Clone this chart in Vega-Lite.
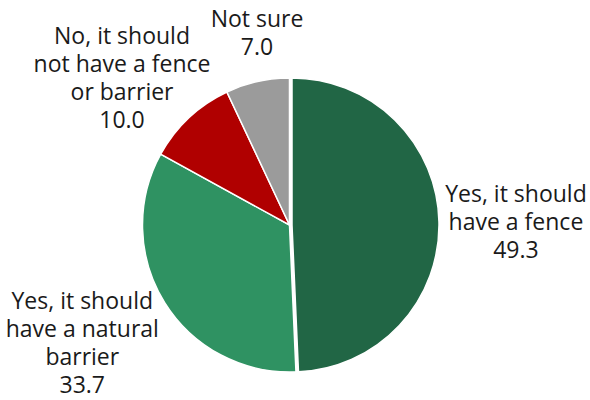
{
  "$schema": "https://vega.github.io/schema/vega-lite/v6.json",
  "width": 579,
  "height": 350,
  "autosize": {"type": "none"},
  "padding": {"left": 0, "top": 50, "right": 11, "bottom": 0},
  "background": "white",
  "view": {"stroke": null},
  "data": {
    "values": [
      {"order": 1, "answer": "Yes, it should have a fence", "label": ["Yes, it should", "have a fence", "49.3"], "value": 49.3},
      {"order": 2, "answer": "Yes, it should have a natural barrier", "label": ["Yes, it should", "have a natural", "barrier", "33.7"], "value": 33.7},
      {"order": 3, "answer": "No, it should not have a fence or barrier", "label": ["No, it should", "not have a fence", "or barrier", "10.0"], "value": 10.0},
      {"order": 4, "answer": "Not sure", "label": ["Not sure", "7.0"], "value": 7.0}
    ]
  },
  "encoding": {
    "theta": {"field": "value", "type": "quantitative", "stack": true},
    "order": {"field": "order", "type": "ordinal"}
  },
  "layer": [
    {
      "mark": {"type": "arc", "outerRadius": 147, "stroke": "white", "strokeWidth": 1.5},
      "encoding": {
        "color": {
          "field": "answer", "type": "nominal", "legend": null,
          "scale": {
            "domain": ["Yes, it should have a fence", "Yes, it should have a natural barrier", "No, it should not have a fence or barrier", "Not sure"],
            "range": ["#216645", "#2F9262", "#B00000", "#9B9B9B"]
          }
        },
        "opacity": {"condition": {"test": "datum.order == 1", "value": 0}, "value": 1}
      }
    },
    {
      "mark": {"type": "arc", "outerRadius": 147, "stroke": "white", "strokeWidth": 1.5, "xOffset": 2.5},
      "encoding": {
        "color": {"field": "answer", "type": "nominal", "legend": null},
        "opacity": {"condition": {"test": "datum.order == 1", "value": 1}, "value": 0}
      }
    },
    {
      "mark": {"type": "text", "font": "Open Sans", "fontSize": 23, "lineHeight": 28, "color": "#1a1a1a", "align": "center", "baseline": "middle", "radius": 226.5, "dx": 0, "dy": -25},
      "encoding": {
        "text": {"condition": {"test": "datum.order == 1", "field": "label", "type": "nominal"}, "value": ""}
      }
    },
    {
      "mark": {"type": "text", "font": "Open Sans", "fontSize": 23, "lineHeight": 28, "color": "#1a1a1a", "align": "center", "baseline": "middle", "radius": 238.8, "dx": -4.4, "dy": -48.7},
      "encoding": {
        "text": {"condition": {"test": "datum.order == 2", "field": "label", "type": "nominal"}, "value": ""}
      }
    },
    {
      "mark": {"type": "text", "font": "Open Sans", "fontSize": 23, "lineHeight": 28, "color": "#1a1a1a", "align": "center", "baseline": "middle", "radius": 220.4, "dx": -16.6, "dy": -27.3},
      "encoding": {
        "text": {"condition": {"test": "datum.order == 3", "field": "label", "type": "nominal"}, "value": ""}
      }
    },
    {
      "mark": {"type": "text", "font": "Open Sans", "fontSize": 23, "lineHeight": 28, "color": "#1a1a1a", "align": "center", "baseline": "middle", "radius": 193.5, "dx": 9.7, "dy": -16.2},
      "encoding": {
        "text": {"condition": {"test": "datum.order == 4", "field": "label", "type": "nominal"}, "value": ""}
      }
    }
  ]
}
